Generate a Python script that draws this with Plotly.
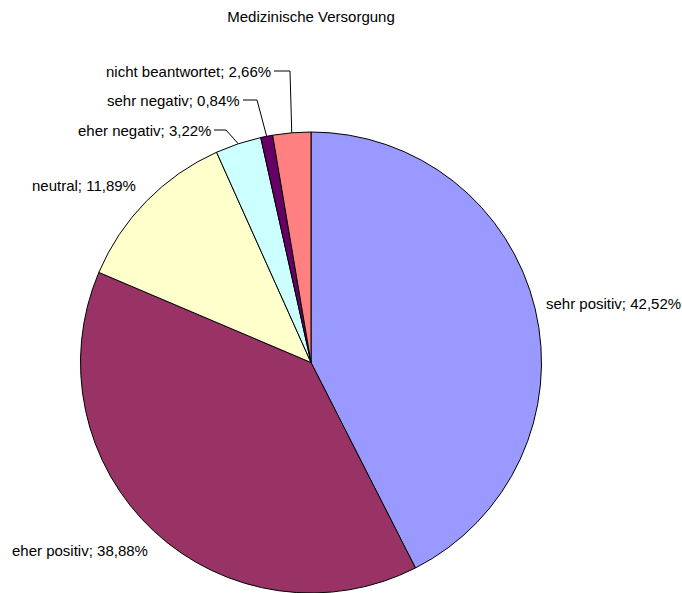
import math
import plotly.graph_objects as go

W, H = 682, 593

categories = ["sehr positiv", "eher positiv", "neutral", "eher negativ", "sehr negativ", "nicht beantwortet"]
values = [42.52, 38.88, 11.89, 3.22, 0.84, 2.66]
value_labels = ["42,52%", "38,88%", "11,89%", "3,22%", "0,84%", "2,66%"]
colors = ["#9999FF", "#993366", "#FFFFCC", "#CCFFFF", "#660066", "#FF8080"]

# pie geometry in pixels
cx, cy, r = 311, 362.5, 230.5

def px(x):
    return x / W

def py(y):
    return 1 - y / H

FONT = dict(family="Liberation Sans, Arial", size=15, color="#000000")

fig = go.Figure(go.Pie(
    labels=categories,
    values=values,
    marker=dict(colors=colors, line=dict(color="black", width=1)),
    sort=False,
    direction="clockwise",
    rotation=0,
    textinfo="none",
    hoverinfo="label+percent",
    showlegend=False,
    domain=dict(x=[px(cx - r), px(cx + r)], y=[max(0, py(cy + r)), py(cy - r)]),
))

# label placement (pixels): (anchor x, y, xanchor, elbow x or None)
label_pos = {
    "sehr positiv": (544, 303, "left", None),
    "eher positiv": (10, 550, "left", None),
    "neutral": (138, 185, "right", None),
    "eher negativ": (213, 130, "right", 226),
    "sehr negativ": (242, 100, "right", 257),
    "nicht beantwortet": (273, 71, "right", 290),
}

annotations = []
shapes = []
total = sum(values)
cum = 0.0
for cat, v, vl in zip(categories, values, value_labels):
    mid = (cum + v / 2) / total * 2 * math.pi
    cum += v
    x, y, xa, elbow = label_pos[cat]
    annotations.append(dict(
        x=px(x), y=py(y), xref="paper", yref="paper",
        text=f"{cat}; {vl}", showarrow=False,
        xanchor=xa, yanchor="middle",
        font=FONT,
    ))
    if elbow is not None:
        ex = cx + r * math.sin(mid)
        ey = cy - r * math.cos(mid)
        shapes.append(dict(type="line", xref="paper", yref="paper",
                           x0=px(x + 1), y0=py(y), x1=px(elbow), y1=py(y),
                           line=dict(color="#000000", width=1)))
        shapes.append(dict(type="line", xref="paper", yref="paper",
                           x0=px(elbow), y0=py(y), x1=px(ex), y1=py(ey),
                           line=dict(color="#000000", width=1)))

fig.update_layout(
    width=W, height=H,
    margin=dict(l=0, r=0, t=0, b=0),
    paper_bgcolor="white",
    plot_bgcolor="white",
    title=dict(text="Medizinische Versorgung", x=px(311), y=py(17),
               xanchor="center", yanchor="middle", font=FONT),
    annotations=annotations,
    shapes=shapes,
)

fig.write_html("out.html",
               config={"displayModeBar": False},
               post_script="document.body.style.margin='0';document.body.style.overflow='hidden';")
